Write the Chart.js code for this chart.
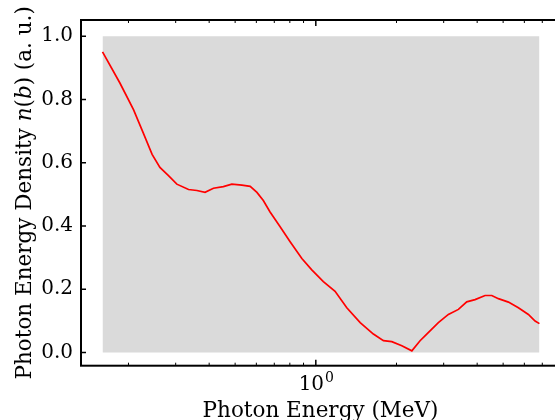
<!DOCTYPE html>
<html>
<head>
<meta charset="utf-8">
<script src="https://cdn.jsdelivr.net/npm/chart.js@4"></script>
<style>
    html, body { margin: 0; padding: 0; overflow: hidden; background: #fff; }
</style>
</head>
<body>
<div style="width:570px;height:424px"><canvas id="chart" width="570" height="424"></canvas></div>
<script>
// photon energy (MeV) and density
const energies = [0.160, 0.186, 0.209, 0.227, 0.245, 0.262, 0.282, 0.303, 0.335, 0.360,
    0.386, 0.415, 0.452, 0.486, 0.530, 0.569, 0.603, 0.637, 0.675, 0.736,
    0.802, 0.887, 0.966, 1.067, 1.180, 1.305, 1.464, 1.640, 1.788, 1.921,
    2.094, 2.282, 2.449, 2.594, 2.866, 3.124, 3.405, 3.658, 3.929, 4.281,
    4.536, 4.800, 5.233, 5.700, 6.212, 6.580, 6.83];
const density = [0.950, 0.851, 0.767, 0.694, 0.626, 0.585, 0.559, 0.532, 0.515, 0.512,
    0.506, 0.519, 0.524, 0.532, 0.529, 0.525, 0.506, 0.480, 0.444, 0.397,
    0.350, 0.297, 0.261, 0.224, 0.193, 0.141, 0.094, 0.058, 0.037, 0.034,
    0.021, 0.005, 0.037, 0.058, 0.094, 0.120, 0.136, 0.160, 0.167, 0.180,
    0.180, 0.170, 0.159, 0.141, 0.120, 0.099, 0.091];

// grey band of sample curves behind the mean
const bandEnergies = [0.160, 6.83];
const bandTop = [1, 1];

const yTicks = [0, 0.2, 0.4, 0.6, 0.8, 1.0];
const xMajorTicks = [1];
const xMinorTicks = [0.2, 0.3, 0.4, 0.5, 0.6, 0.7, 0.8, 0.9, 2, 3, 4, 5, 6, 7, 8];

const serif = '"DejaVu Serif", "Liberation Serif", serif';

const framePlugin = {
    id: 'frame',
    afterDraw(chart) {
        const { ctx, chartArea: a, scales: { x, y } } = chart;
        ctx.save();
        ctx.strokeStyle = '#000';
        ctx.lineWidth = 1;
        ctx.beginPath();
        const tick = (px, len) => {
            ctx.moveTo(px, a.bottom); ctx.lineTo(px, a.bottom - len);
            ctx.moveTo(px, a.top); ctx.lineTo(px, a.top + len);
        };
        xMinorTicks.forEach(v => tick(x.getPixelForValue(v), 3));
        ctx.stroke();
        ctx.lineWidth = 1.5;
        ctx.beginPath();
        xMajorTicks.forEach(v => tick(x.getPixelForValue(v), 6));
        yTicks.forEach(v => {
            const py = y.getPixelForValue(v);
            ctx.moveTo(a.left, py); ctx.lineTo(a.left + 5, py);
            ctx.moveTo(a.right, py); ctx.lineTo(a.right - 5, py);
        });
        ctx.stroke();
        ctx.lineWidth = 2;
        ctx.strokeRect(a.left, a.top, a.right - a.left, a.bottom - a.top);

        ctx.fillStyle = '#000';
        ctx.textBaseline = 'alphabetic';
        ctx.textAlign = 'left';

        // x tick labels as 10 with a raised exponent
        xMajorTicks.forEach(v => {
            const exp = String(Math.round(Math.log10(v)));
            ctx.font = `20px ${serif}`;
            const wBase = ctx.measureText('10').width;
            ctx.font = `14px ${serif}`;
            const wExp = ctx.measureText(exp).width;
            const left = x.getPixelForValue(v) - (wBase + wExp) / 2;
            ctx.font = `20px ${serif}`;
            ctx.fillText('10', left, 390);
            ctx.font = `14px ${serif}`;
            ctx.fillText(exp, left + wBase + 1, 381.5);
        });

        // y label with italic n(b)
        const parts = [
            ['Photon Energy Density ', ''],
            ['n', 'italic '],
            ['(', ''],
            ['b', 'italic '],
            [') (a. u.)', '']
        ];
        let total = 0;
        parts.forEach(([t, s]) => { ctx.font = `${s}21.5px ${serif}`; total += ctx.measureText(t).width; });
        ctx.translate(31, (a.top + a.bottom) / 2);
        ctx.rotate(-Math.PI / 2);
        let cx = -total / 2;
        parts.forEach(([t, s]) => {
            ctx.font = `${s}21.5px ${serif}`;
            ctx.fillText(t, cx, 0);
            cx += ctx.measureText(t).width;
        });
        ctx.restore();
    }
};

new Chart(document.getElementById('chart'), {
    type: 'line',
    data: {
        datasets: [
            {
                data: energies.map((e, i) => ({ x: e, y: density[i] })),
                borderColor: '#ff0000',
                borderWidth: 1.7,
                pointRadius: 0,
                fill: false,
                tension: 0
            },
            {
                data: bandEnergies.map((e, i) => ({ x: e, y: bandTop[i] })),
                backgroundColor: '#dadada',
                borderWidth: 0,
                pointRadius: 0,
                fill: 'origin'
            }
        ]
    },
    options: {
        responsive: false,
        animation: false,
        layout: { padding: { top: 16, right: 10, left: 0, bottom: 0 } },
        plugins: { legend: { display: false }, tooltip: { enabled: false } },
        scales: {
            x: {
                type: 'logarithmic',
                min: 0.133,
                max: 8.15,
                grid: { display: false, drawTicks: false },
                border: { display: false },
                afterBuildTicks: scale => { scale.ticks = xMajorTicks.map(v => ({ value: v })); },
                afterFit: scale => { scale.height = 58.3; },
                ticks: {
                    autoSkip: false,
                    maxRotation: 0,
                    callback: () => ''
                },
                title: {
                    display: true,
                    text: 'Photon Energy (MeV)',
                    color: '#000',
                    font: { family: serif, size: 21.5 },
                    padding: { top: 0, bottom: 0 }
                }
            },
            y: {
                min: -0.042,
                max: 1.051,
                grid: { display: false, drawTicks: false },
                border: { display: false },
                afterBuildTicks: scale => { scale.ticks = yTicks.map(v => ({ value: v })); },
                afterFit: scale => { scale.width = 81; },
                ticks: {
                    padding: 8,
                    color: '#000',
                    font: { family: serif, size: 20 },
                    callback: v => v.toFixed(1)
                }
            }
        }
    },
    plugins: [framePlugin]
});
</script>
</body>
</html>
